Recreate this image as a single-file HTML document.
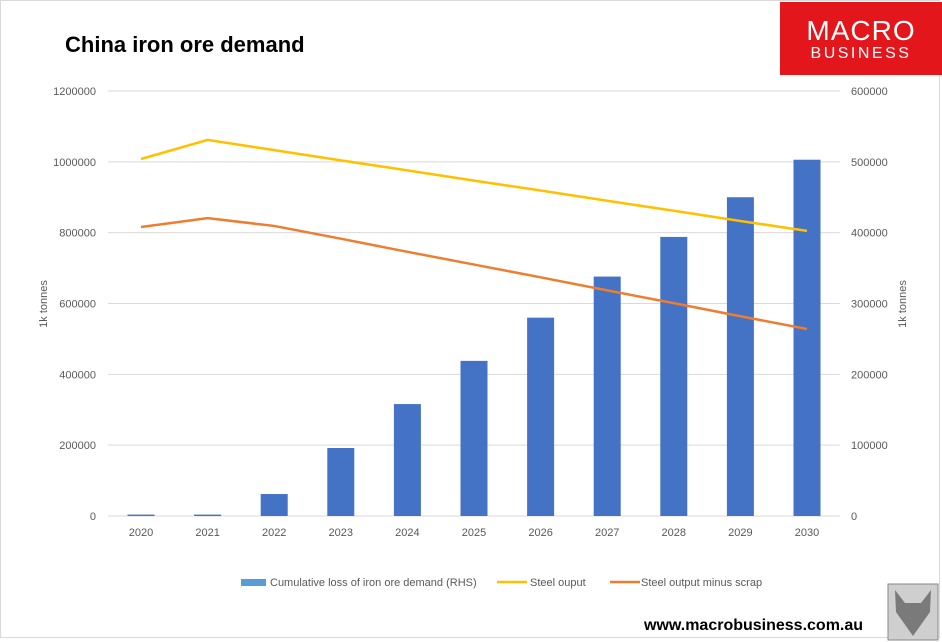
<!DOCTYPE html>
<html><head><meta charset="utf-8"><style>
body{margin:0;background:#fff;font-family:"Liberation Sans",sans-serif;}
#wrap{position:relative;width:942px;height:642px;overflow:hidden;}
</style></head><body>
<div id="wrap">
<svg id="chart" width="942" height="642"></svg>
</div>
<script>
const years=["2020","2021","2022","2023","2024","2025","2026","2027","2028","2029","2030"];
const lossRHS=[2000,2000,31000,96000,158000,219000,280000,338000,394000,450000,503000];
const steelOutput=[1008000,1062000,1033000,1004000,976000,947000,919000,890000,862000,833000,805000];
const steelMinusScrap=[816000,841000,819000,783000,746000,710000,674000,637000,601000,564000,528000];
const leftTicks=[0,200000,400000,600000,800000,1000000,1200000];
const rightTicks=[0,100000,200000,300000,400000,500000,600000];

const NS="http://www.w3.org/2000/svg";
const svg=document.getElementById('chart');
function mk(t,a,txt){const e=document.createElementNS(NS,t);for(const k in a)e.setAttribute(k,a[k]);if(txt!==undefined)e.textContent=txt;svg.appendChild(e);return e;}
const y0=516,yTop=91;
const yL=v=>y0-(v/1200000)*(y0-yTop);
const yR=v=>y0-(v/600000)*(y0-yTop);
const x=i=>141+i*66.6;

let e=mk('rect',{x:0.5,y:0.5,width:939,height:637,fill:'#fff',stroke:'#d9d9d9'});

e=mk('text',{x:65,y:52,'font-size':22,'font-weight':'bold',fill:'#000'},'China iron ore demand');


leftTicks.forEach((v,i)=>{
  let g=mk('line',{x1:108,x2:840,y1:yL(v),y2:yL(v),stroke:'#d9d9d9'});
  
  let t=mk('text',{x:96,y:yL(v)+4,'font-size':11,'text-anchor':'end',fill:'#595959'},String(v));
  
});
rightTicks.forEach(v=>{
  let t=mk('text',{x:851,y:yR(v)+4,'font-size':11,fill:'#595959'},String(v));
  
});
e=mk('text',{x:0,y:0,'font-size':11,fill:'#595959','text-anchor':'middle',transform:'translate(47,304) rotate(-90)'},'1k tonnes');

e=mk('text',{x:0,y:0,'font-size':11,fill:'#595959','text-anchor':'middle',transform:'translate(906,304) rotate(-90)'},'1k tonnes');


lossRHS.forEach((v,i)=>{
  let b=mk('rect',{x:x(i)-13.5,y:yR(v),width:27,height:y0-yR(v),fill:'#4472c4'});
  
  let t=mk('text',{x:x(i),y:536,'font-size':11,'text-anchor':'middle',fill:'#595959'},years[i]);
  
});
function line(arr,col,name){
  let p=mk('polyline',{points:arr.map((v,i)=>x(i)+','+yL(v)).join(' '),fill:'none',stroke:col,'stroke-width':2.5});
  
}
line(steelOutput,'#ffc000','steel-output-line');
line(steelMinusScrap,'#ed7d31','steel-minus-scrap-line');

// legend
e=mk('rect',{x:241,y:579,width:25,height:7,fill:'#5b9bd5'});

e=mk('text',{x:270,y:586,'font-size':11,fill:'#595959'},'Cumulative loss of iron ore demand (RHS)');

e=mk('line',{x1:497,x2:527,y1:582,y2:582,stroke:'#ffc000','stroke-width':2.5});

e=mk('text',{x:530,y:586,'font-size':11,fill:'#595959'},'Steel ouput');

e=mk('line',{x1:610,x2:640,y1:582,y2:582,stroke:'#ed7d31','stroke-width':2.5});

e=mk('text',{x:641,y:586,'font-size':11,fill:'#595959'},'Steel output minus scrap');


// logo
e=mk('rect',{x:780,y:2,width:162,height:73,fill:'#e3161b'});

e=mk('text',{x:861,y:40,'font-size':28,fill:'#fff','text-anchor':'middle','letter-spacing':'1'},'MACRO');

e=mk('text',{x:861,y:58,'font-size':16,fill:'#fff','text-anchor':'middle','letter-spacing':'2.5'},'BUSINESS');


e=mk('text',{x:644,y:630,'font-size':16,'font-weight':'bold',fill:'#000'},'www.macrobusiness.com.au');

e=mk('rect',{x:888,y:584,width:50,height:56,fill:'#cfcfcf',stroke:'#888'});

e=mk('polygon',{points:'895,590 905,603 921,603 931,590 930,612 913,636 896,612',fill:'#7a7a7a'});

</script>
</body></html>
